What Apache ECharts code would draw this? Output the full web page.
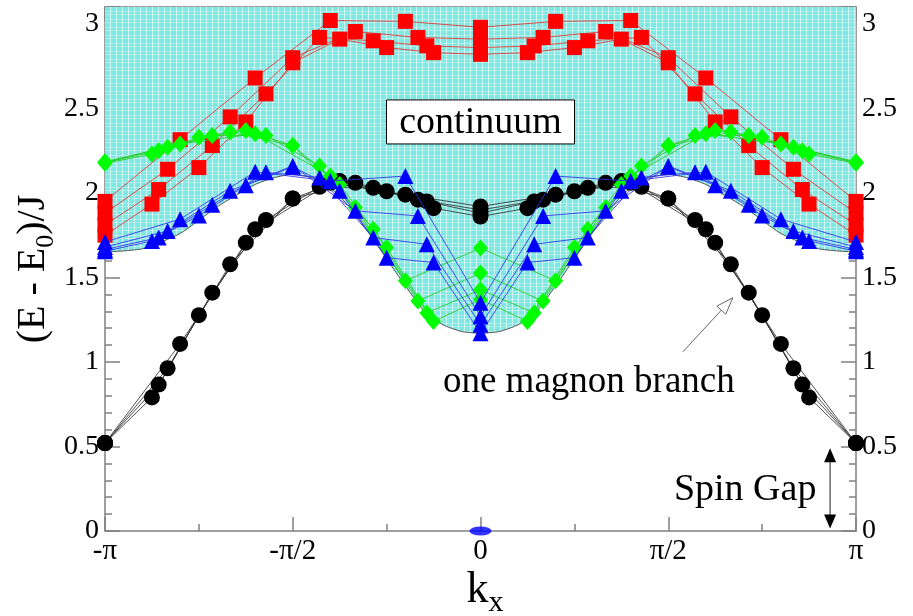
<!DOCTYPE html>
<html>
<head>
<meta charset="utf-8">
<script src="https://cdn.jsdelivr.net/npm/echarts@6/dist/echarts.min.js"></script>
<style>
  html, body { margin: 0; padding: 0; background: #fff; }
  #main { width: 913px; height: 616px; }
</style>
</head>
<body>
<div id="main"></div>
<script>
// k in units of pi, one list per system size
const kL10 = [-1, -0.8, -0.6, -0.4, -0.2, 0, 0.2, 0.4, 0.6, 0.8, 1];
const kL12 = [-1, -0.8333, -0.6667, -0.5, -0.3333, -0.1667, 0, 0.1667, 0.3333, 0.5, 0.6667, 0.8333, 1];
const kL14 = [-1, -0.8571, -0.7143, -0.5714, -0.4286, -0.2857, -0.1429, 0, 0.1429, 0.2857, 0.4286, 0.5714, 0.7143, 0.8571, 1];
const kL16 = [-1, -0.875, -0.75, -0.625, -0.5, -0.375, -0.25, -0.125, 0, 0.125, 0.25, 0.375, 0.5, 0.625, 0.75, 0.875, 1];

// red squares
const red10 = [1.95, 2.315, 2.68, 3.02, 3.015, 2.98, 3.015, 3.02, 2.68, 2.315, 1.95];
const red12 = [1.88, 2.14, 2.45, 2.80, 2.955, 2.92, 2.91, 2.92, 2.955, 2.80, 2.45, 2.14, 1.88];
const red14 = [1.81, 2.02, 2.28, 2.586, 2.92, 2.90, 2.87, 2.86, 2.87, 2.90, 2.92, 2.586, 2.28, 2.02, 1.81];
const red16 = [1.75, 1.934, 2.15, 2.42, 2.77, 2.91, 2.86, 2.83, 2.82, 2.83, 2.86, 2.91, 2.77, 2.42, 2.15, 1.934, 1.75];

// green diamonds
const green10 = [2.18, 2.29, 2.35, 2.10, 1.48, 1.674, 1.48, 2.10, 2.35, 2.29, 2.18];
const green12 = [2.185, 2.27, 2.36, 2.28, 1.914, 1.36, 1.526, 1.36, 1.914, 2.28, 2.36, 2.27, 2.185];
const green14 = [2.18, 2.25, 2.34, 2.34, 2.16, 1.785, 1.29, 1.427, 1.29, 1.785, 2.16, 2.34, 2.34, 2.25, 2.18];
const green16 = [2.175, 2.23, 2.33, 2.37, 2.28, 2.05, 1.677, 1.24, 1.37, 1.24, 1.677, 2.05, 2.28, 2.37, 2.33, 2.23, 2.175];

// blue triangles
const blue10 = [1.71, 1.845, 2.125, 2.07, 2.10, 1.35, 2.10, 2.07, 2.125, 1.845, 1.71];
const blue12 = [1.68, 1.775, 2.013, 2.16, 1.894, 1.864, 1.27, 1.864, 1.894, 2.16, 2.013, 1.775, 1.68];
const blue14 = [1.665, 1.736, 1.93, 2.122, 2.092, 1.736, 1.696, 1.22, 1.696, 1.736, 2.092, 2.122, 1.93, 1.736, 1.665];
const blue16 = [1.655, 1.716, 1.866, 2.045, 2.155, 2.013, 1.617, 1.588, 1.17, 1.588, 1.617, 2.013, 2.155, 2.045, 1.866, 1.716, 1.655];

// black circles (one magnon branch)
const black10 = [0.52, 1.107, 1.785, 2.06, 1.99, 1.92, 1.99, 2.06, 1.785, 1.107, 0.52];
const black12 = [0.52, 0.963, 1.578, 1.967, 2.06, 1.96, 1.90, 1.96, 2.06, 1.967, 1.578, 0.963, 0.52];
const black14 = [0.52, 0.866, 1.41, 1.84, 2.036, 2.03, 1.95, 1.88, 1.95, 2.03, 2.036, 1.84, 1.41, 0.866, 0.52];
const black16 = [0.52, 0.79, 1.277, 1.706, 1.967, 2.07, 2.01, 1.91, 1.86, 1.91, 2.01, 2.07, 1.967, 1.706, 1.277, 0.79, 0.52];

// lower edge of the continuum
const edgeK = [-1, -0.9, -0.8, -0.7, -0.6, -0.55, -0.5, -0.45, -0.4, -0.35, -0.3, -0.25, -0.2, -0.15, -0.1, -0.05, 0,
               0.05, 0.1, 0.15, 0.2, 0.25, 0.3, 0.35, 0.4, 0.45, 0.5, 0.55, 0.6, 0.7, 0.8, 0.9, 1];
const edgeE = [1.65, 1.67, 1.76, 1.92, 2.05, 2.09, 2.11, 2.09, 2.03, 1.92, 1.77, 1.61, 1.45, 1.30, 1.22, 1.18, 1.17,
               1.18, 1.22, 1.30, 1.45, 1.61, 1.77, 1.92, 2.03, 2.09, 2.11, 2.09, 2.05, 1.92, 1.76, 1.67, 1.65];

const originMarker = [[0, 0]];

const xTickValues = [-1, -0.5, 0, 0.5, 1];
const xTickLabels = ['-π', '-π/2', '0', 'π/2', 'π'];

const serif = '"Liberation Serif", "DejaVu Serif", serif';

function zip(ks, vs) {
  return ks.map((k, i) => [k, vs[i]]);
}

// hatch-like texture for the continuum
const pat = document.createElement('canvas');
pat.width = 12; pat.height = 8;
const pc = pat.getContext('2d');
pc.fillStyle = '#7ee9e2';
pc.fillRect(0, 0, 12, 8);
pc.fillStyle = 'rgba(255,255,255,0.6)';
pc.fillRect(2, 0, 1, 8);
pc.fillRect(8, 0, 1, 8);
pc.fillStyle = 'rgba(255,255,255,0.35)';
pc.fillRect(0, 3, 12, 1);
pc.fillRect(0, 6, 12, 1);

const groups = [
  { name: 'red', symbol: 'rect', size: 15, mark: '#ff0000', line: '#e83030', sets: [[kL10, red10], [kL12, red12], [kL14, red14], [kL16, red16]] },
  { name: 'black', symbol: 'circle', size: 16, mark: '#000000', line: '#333333', sets: [[kL10, black10], [kL12, black12], [kL14, black14], [kL16, black16]] },
  { name: 'green', symbol: 'diamond', size: [15, 17], mark: '#00ff00', line: '#22cc22', sets: [[kL10, green10], [kL12, green12], [kL14, green14], [kL16, green16]] },
  { name: 'blue', symbol: 'triangle', size: 16, mark: '#0000ff', line: '#3030ee', sets: [[kL10, blue10], [kL12, blue12], [kL14, blue14], [kL16, blue16]] }
];

const series = [{
  name: 'continuum',
  type: 'line',
  data: zip(edgeK, edgeE),
  symbol: 'none',
  smooth: 0.2,
  lineStyle: { color: '#555', width: 1 },
  areaStyle: { origin: 'end', color: { image: pat, repeat: 'repeat' }, opacity: 1 },
  z: 1
}];

groups.forEach((g, gi) => {
  g.sets.forEach((s, si) => {
    series.push({
      name: g.name + si,
      type: 'line',
      data: zip(s[0], s[1]),
      symbol: g.symbol,
      symbolSize: g.size,
      itemStyle: { color: g.mark },
      lineStyle: { color: g.line, width: 1, opacity: 0.85 },
      z: 3 + gi
    });
  });
});

series.push({
  name: 'origin',
  type: 'scatter',
  data: originMarker,
  symbol: 'circle',
  symbolSize: [22, 9],
  itemStyle: { color: '#0000ff' },
  clip: false,
  z: 10
});

const axisColor = '#808080';

function xAxis(pos, labels) {
  return {
    type: 'value', position: pos, min: -1, max: 1, interval: 0.5,
    axisLine: { show: true, onZero: false, lineStyle: { color: axisColor, width: 1.5 } },
    axisTick: { show: true, inside: true, length: 14, lineStyle: { color: axisColor, width: 1.5 } },
    minorTick: { show: true, splitNumber: 2, length: 7, lineStyle: { color: axisColor, width: 1.5 } },
    splitLine: { show: false },
    axisLabel: {
      show: labels, margin: 6, color: '#000', fontFamily: serif, fontSize: 29,
      formatter: v => {
        const i = xTickValues.findIndex(t => Math.abs(t - v) < 1e-6);
        return i >= 0 ? xTickLabels[i] : '';
      }
    }
  };
}

function yAxis(pos) {
  return {
    type: 'value', position: pos, min: 0, max: 3.1, interval: 0.5,
    axisLine: { show: true, onZero: false, lineStyle: { color: axisColor, width: 1.5 } },
    axisTick: { show: true, inside: true, length: 15, lineStyle: { color: axisColor, width: 1.5 } },
    minorTick: { show: true, splitNumber: 5, length: 7, lineStyle: { color: axisColor, width: 1.5 } },
    splitLine: { show: false },
    axisLabel: { show: true, margin: 6, color: '#000', fontFamily: serif, fontSize: 28, showMaxLabel: false }
  };
}

const chart = echarts.init(document.getElementById('main'));

chart.setOption({
  animation: false,
  backgroundColor: '#ffffff',
  grid: { left: 105, right: 57, top: 7, bottom: 85 },
  xAxis: [xAxis('bottom', true), xAxis('top', false)],
  yAxis: [yAxis('left'), yAxis('right')],
  series: series
});

const px = (k, e) => chart.convertToPixel({ xAxisIndex: 0, yAxisIndex: 0 }, [k, e]);

// continuum label box
const cBox = px(0, 2.42);
// magnon arrow
const aFrom = px(0.539, 1.06);
const aTo = px(0.672, 1.38);
const dx = aTo[0] - aFrom[0], dy = aTo[1] - aFrom[1];
const len = Math.sqrt(dx * dx + dy * dy);
const ux = dx / len, uy = dy / len;
const hl = 17, hw = 6;
const aBase = [aTo[0] - ux * hl, aTo[1] - uy * hl];
// spin gap arrow
const gTop = px(0.931, 0.49);
const gBot = px(0.931, 0.015);
const magLabel = px(-0.1, 0.88);
const gapLabel = px(0.515, 0.245);

chart.setOption({
  graphic: [
    {
      type: 'rect', z: 50,
      shape: { x: cBox[0] - 94, y: cBox[1] - 22, width: 188, height: 44 },
      style: { fill: '#fff', stroke: '#000', lineWidth: 1 }
    },
    {
      type: 'text', z: 51, x: cBox[0], y: cBox[1] + 1,
      style: { text: 'continuum', fontFamily: serif, fontSize: 38, fill: '#000', align: 'center', verticalAlign: 'middle' }
    },
    {
      type: 'text', z: 50, x: magLabel[0], y: magLabel[1],
      style: { text: 'one magnon branch', fontFamily: serif, fontSize: 37, fill: '#000', align: 'left', verticalAlign: 'middle' }
    },
    {
      type: 'line', z: 50,
      shape: { x1: aFrom[0], y1: aFrom[1], x2: aBase[0], y2: aBase[1] },
      style: { stroke: '#666', lineWidth: 1 }
    },
    {
      type: 'polygon', z: 50,
      shape: { points: [aTo, [aBase[0] - uy * hw, aBase[1] + ux * hw], [aBase[0] + uy * hw, aBase[1] - ux * hw]] },
      style: { fill: '#fff', stroke: '#666', lineWidth: 1 }
    },
    {
      type: 'text', z: 50, x: gapLabel[0], y: gapLabel[1],
      style: { text: 'Spin Gap', fontFamily: serif, fontSize: 38, fill: '#000', align: 'left', verticalAlign: 'middle' }
    },
    {
      type: 'line', z: 50,
      shape: { x1: gTop[0], y1: gTop[1] + 12, x2: gBot[0], y2: gBot[1] - 12 },
      style: { stroke: '#666', lineWidth: 1.5 }
    },
    {
      type: 'polygon', z: 50,
      shape: { points: [gTop, [gTop[0] - 6, gTop[1] + 14], [gTop[0] + 6, gTop[1] + 14]] },
      style: { fill: '#000' }
    },
    {
      type: 'polygon', z: 50,
      shape: { points: [gBot, [gBot[0] - 6, gBot[1] - 14], [gBot[0] + 6, gBot[1] - 14]] },
      style: { fill: '#000' }
    },
    {
      type: 'text', z: 50, x: 33, y: 269, rotation: Math.PI / 2,
      style: {
        x: 0, y: 0, text: '(E - E{s|0})/J', align: 'center', verticalAlign: 'middle',
        fontFamily: serif, fontSize: 40, lineHeight: 52, fill: '#000',
        rich: { s: { fontFamily: serif, fontSize: 26, lineHeight: 24, verticalAlign: 'bottom', fill: '#000' } }
      }
    },
    {
      type: 'text', z: 50, x: 485, y: 590,
      style: {
        x: 0, y: 0, text: 'k{s|x}', align: 'center', verticalAlign: 'middle',
        fontFamily: serif, fontSize: 44, lineHeight: 56, fill: '#000',
        rich: { s: { fontFamily: serif, fontSize: 30, lineHeight: 28, verticalAlign: 'bottom', fill: '#000' } }
      }
    }
  ]
});
</script>
</body>
</html>
